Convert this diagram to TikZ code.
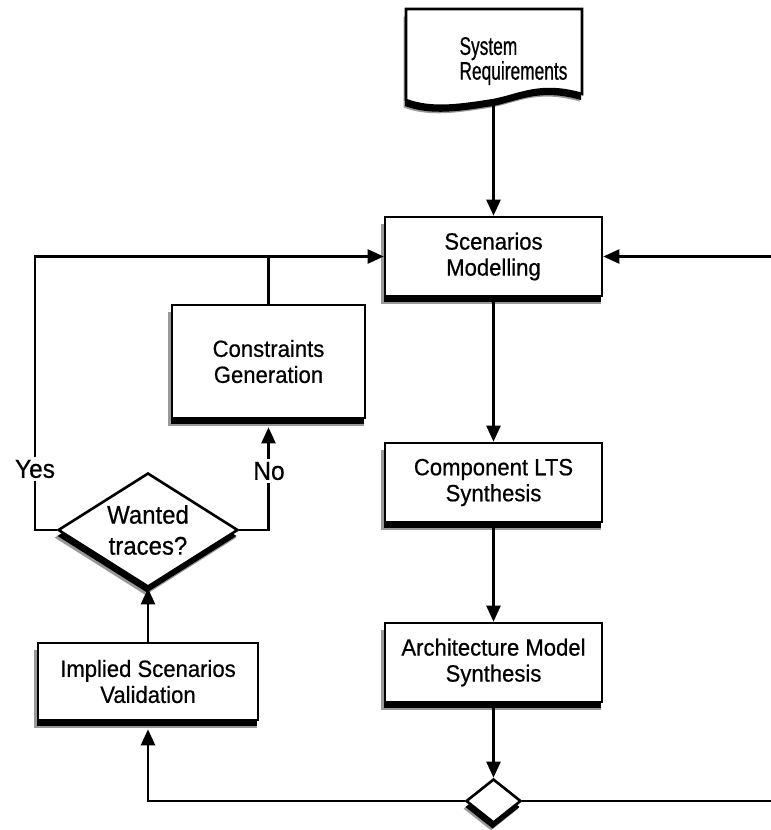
\documentclass[tikz,border=0pt]{standalone}
\usepackage{fontspec}
\setmainfont{Liberation Sans}[FakeStretch=0.94, FakeBold=0.6]
\newfontfamily\narrowfont{Liberation Sans}[FakeStretch=0.68, FakeBold=0.7]
\usetikzlibrary{arrows.meta,shapes.geometric,shadows,calc}

\begin{document}
\begin{tikzpicture}[x=1pt,y=-1pt,
  line width=2.3pt,
  flow/.style={-{Triangle[length=16pt,width=14pt]}},
  dropshadow/.style={
    general shadow={fill=black!40, shadow xshift=-2.5pt, shadow yshift=-7.5pt, shadow scale=1.015},
    general shadow={fill=black, shadow xshift=-1pt, shadow yshift=-6pt}},
  stepbox/.style={draw, line width=2.6pt, fill=white, rectangle, align=center,
    inner sep=0pt, font=\fontsize{23.5}{26}\selectfont, dropshadow},
  decision/.style={draw, line width=2.6pt, fill=white, diamond, inner sep=0pt, dropshadow},
  answer/.style={fill=white, inner sep=3pt, font=\fontsize{26}{26}\selectfont},
]
\useasboundingbox (0,0) rectangle (771,830);

% document symbol for the requirements
\fill[black!40, xshift=-2.5pt, yshift=-7.5pt]
  (406,9) -- (582,9) -- (582,94) .. controls (540,82) and (520,95) .. (494,100)
  .. controls (462,105) and (432,110) .. (406,100) -- cycle;
\fill[black, xshift=-1pt, yshift=-6pt]
  (406,9) -- (582,9) -- (582,94) .. controls (540,82) and (520,95) .. (494,100)
  .. controls (462,105) and (432,110) .. (406,100) -- cycle;
\draw[line width=2.6pt, fill=white]
  (406,9) -- (582,9) -- (582,94) .. controls (540,82) and (520,95) .. (494,100)
  .. controls (462,105) and (432,110) .. (406,100) -- cycle;
\node[font=\narrowfont\fontsize{25.5}{23.5}\selectfont, align=left, anchor=west] (req) at (455,61)
  {System\\Requirements};
\coordinate (reqbot) at (493.5,104);

% process boxes
\node[stepbox, minimum width=217pt, minimum height=79pt] (sm) at (493.5,256.5) {Scenarios\\Modelling};
\node[stepbox, minimum width=193pt, minimum height=113pt] (cg) at (268.5,361.5) {Constraints\\Generation};
\node[stepbox, minimum width=217pt, minimum height=79pt] (cl) at (493.5,482.5) {Component LTS\\Synthesis};
\node[stepbox, minimum width=217pt, minimum height=79pt] (am) at (493.5,662.5) {Architecture Model\\Synthesis};
\node[stepbox, minimum width=220pt, minimum height=77pt] (isv) at (148,681.5) {Implied Scenarios\\Validation};

% decisions
\node[decision, minimum width=180pt, minimum height=114pt] (wt) at (148,530) {};
\node[font=\fontsize{25.5}{31}\selectfont, align=center] (wtlabel) at (wt.center) {Wanted\\traces?};
\node[decision, minimum width=55pt, minimum height=44pt] (sd) at (493.5,801) {};

% free ends at the right border
\coordinate (rin) at (771,256.5);
\coordinate (rout) at (771,801);

% main flow
\draw[flow] (reqbot) -- (sm.north);
\draw[flow] (sm.south) -- (cl.north);
\draw[flow] (cl.south) -- (am.north);
\draw[flow] (am.south) -- (sd.north);
\draw[flow] (rin) -- (sm.east);
\draw (sd.east) -- (rout);

% validation loop
\draw[flow] (sd.west) -| ($(isv.south)+(0,8)$);
\draw[flow] (isv.north) -- (wt.south);
\draw[flow] (wt.west) -- (35,530) -- (35,256.5) -- (sm.west);
\draw (cg.north) -- (cg.north |- sm.west);
\draw[flow] (wt.east) -| ($(cg.south)+(0,8)$);

% branch labels
\node[answer] (yes) at (35,469) {Yes};
\node[answer] (no) at (269,471) {No};
\end{tikzpicture}
\end{document}
